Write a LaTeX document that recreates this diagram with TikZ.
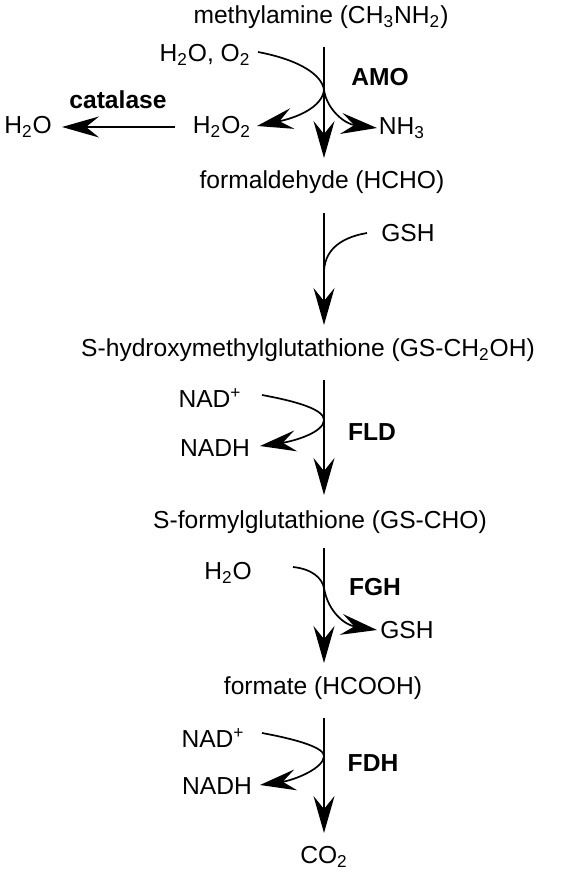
\documentclass[tikz,border=0pt]{standalone}
\usepackage{fontspec}
\setmainfont{Liberation Sans}
\usetikzlibrary{arrows.meta}

\begin{document}
\begin{tikzpicture}[
  x=0.5pt,y=-0.5pt,
  cpd/.style={font=\fontsize{12.3}{14}\selectfont,inner sep=0pt},
  enz/.style={font=\fontsize{12.3}{14}\selectfont\bfseries,inner sep=0pt},
  rxn/.style={line width=1pt,-{Stealth[length=18.5pt,width=10.5pt,inset=6.5pt]}},
  side/.style={line width=0.85pt,-{Stealth[length=18pt,width=10.5pt,inset=6.5pt]}},
  feed/.style={line width=0.85pt}
]
\useasboundingbox (0,0) rectangle (564,877);
% main chain
\node[cpd] (mea) at (321,17) {methylamine (CH\textsubscript{3}NH\textsubscript{2})};
\node[cpd] (hcho) at (322,182) {formaldehyde (HCHO)};
\node[cpd] (gsch) at (308,350) {S-hydroxymethylglutathione (GS-CH\textsubscript{2}OH)};
\node[cpd] (gscho) at (320,522) {S-formylglutathione (GS-CHO)};
\node[cpd] (hcooh) at (323,688) {formate (HCOOH)};
\node[cpd] (co2) at (324,857) {CO\textsubscript{2}};
\coordinate (a1) at (324,47);  \coordinate (b1) at (324,158);
\coordinate (a2) at (324,213); \coordinate (b2) at (324,325);
\coordinate (a3) at (324,380); \coordinate (b3) at (324,495);
\coordinate (a4) at (324,548); \coordinate (b4) at (324,663);
\coordinate (a5) at (324,718); \coordinate (b5) at (324,833);
\draw[rxn] (a1) -- (b1);
\draw[rxn] (a2) -- (b2);
\draw[rxn] (a3) -- (b3);
\draw[rxn] (a4) -- (b4);
\draw[rxn] (a5) -- (b5);
% AMO step
\node[cpd] (h2oo2) at (205,55) {H\textsubscript{2}O, O\textsubscript{2}};
\node[enz] (amo) at (380,77) {AMO};
\node[cpd] (h2o2) at (222,127) {H\textsubscript{2}O\textsubscript{2}};
\node[cpd] (nh3) at (402,128) {NH\textsubscript{3}};
\coordinate (m1) at (324,90);
\coordinate (e1) at (258,52);
\coordinate (t1) at (257,126);
\coordinate (t2) at (377,128);
\draw[feed] (e1) .. controls (300,60) and (322,75) .. (m1);
\draw[side] (m1) .. controls (322,108) and (295,118) .. (t1);
\draw[side] (m1) .. controls (327,110) and (345,124) .. (t2);
% catalase
\node[cpd] (h2oa) at (28,127) {H\textsubscript{2}O};
\node[enz] (cat) at (118,100) {catalase};
\coordinate (c1) at (175,127);
\coordinate (c2) at (62,127);
\draw[rxn] (c1) -- (c2);
% GSH addition
\node[cpd] (gsha) at (408,233) {GSH};
\coordinate (e2) at (367,233);
\coordinate (m2) at (324,273);
\draw[feed] (e2) .. controls (338,238) and (324,252) .. (m2);
% FLD step
\node[cpd] (nad1) at (210,398) {NAD\textsuperscript{+}};
\node[cpd] (nadh1) at (215,448) {NADH};
\node[enz] (fld) at (372,432) {FLD};
\coordinate (e3) at (262,395);
\coordinate (m3) at (324,420);
\coordinate (t3) at (260,446);
\draw[side] (e3) .. controls (300,402) and (324,410) .. (m3)
  .. controls (324,432) and (295,441) .. (t3);
% FGH step
\node[cpd] (h2ob) at (228,573) {H\textsubscript{2}O};
\node[cpd] (gshb) at (407,630) {GSH};
\node[enz] (fgh) at (375,587) {FGH};
\coordinate (e4) at (293,567);
\coordinate (m4) at (324,588);
\coordinate (t4) at (377,630);
\draw[side] (e4) .. controls (312,569) and (322,578) .. (m4)
  .. controls (328,612) and (345,625) .. (t4);
% FDH step
\node[cpd] (nad2) at (213,738) {NAD\textsuperscript{+}};
\node[cpd] (nadh2) at (217,786) {NADH};
\node[enz] (fdh) at (373,763) {FDH};
\coordinate (e5) at (262,733);
\coordinate (m5) at (324,756);
\coordinate (t5) at (260,785);
\draw[side] (e5) .. controls (300,740) and (324,748) .. (m5)
  .. controls (324,768) and (295,780) .. (t5);
\end{tikzpicture}
\end{document}
